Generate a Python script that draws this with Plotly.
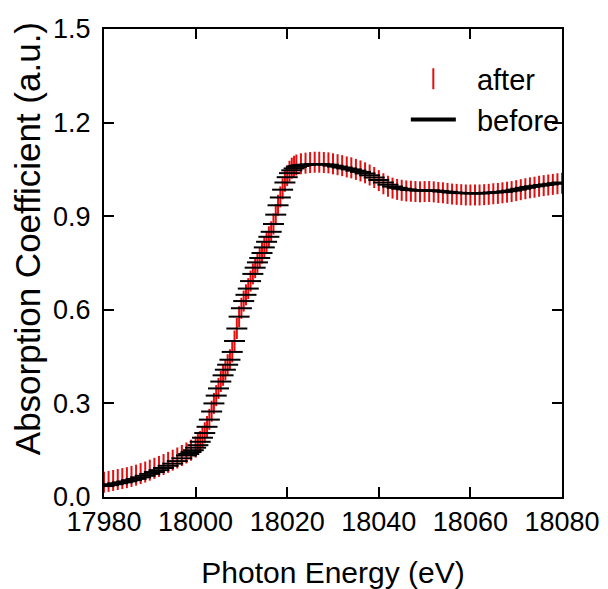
import plotly.graph_objects as go

# "before" spectrum (black horizontal-tick markers)
before_e = [17980, 17981, 17982, 17983, 17984, 17985, 17986, 17987, 17988, 17989,
            17990, 17991, 17992, 17993, 17994, 17995, 17996, 17997,
            17998, 17998.5, 17999, 17999.5, 18000, 18000.5, 18001, 18001.5, 18002, 18002.5,
            18003, 18003.5, 18004, 18004.5, 18005, 18005.5, 18006, 18006.5, 18007, 18007.5,
            18008, 18008.5, 18009, 18009.5, 18010, 18010.5, 18011, 18011.5, 18012, 18012.5,
            18013, 18013.5, 18014, 18014.5, 18015, 18015.5, 18016, 18016.5, 18017, 18017.5,
            18018, 18018.5, 18019, 18019.5, 18020, 18020.5, 18021, 18021.5, 18022, 18022.5,
            18023, 18023.5, 18024,
            18025, 18026, 18027, 18028, 18029, 18030, 18031, 18032, 18033, 18034,
            18035, 18036, 18037, 18038, 18039, 18040, 18041, 18042, 18043, 18044,
            18045, 18046, 18047, 18048, 18049, 18050, 18051, 18052, 18053, 18054,
            18055, 18056, 18057, 18058, 18059, 18060, 18061, 18062, 18063, 18064,
            18065, 18066, 18067, 18068, 18069, 18070, 18071, 18072, 18073, 18074,
            18075, 18076, 18077, 18078, 18079, 18080]
before_mu = [0.035, 0.038, 0.041, 0.044, 0.047, 0.050, 0.054, 0.058, 0.063, 0.068,
             0.074, 0.080, 0.086, 0.093, 0.100, 0.107, 0.115, 0.124,
             0.133, 0.138, 0.144, 0.150, 0.158, 0.166, 0.177, 0.190, 0.205, 0.225,
             0.248, 0.274, 0.300, 0.325, 0.348, 0.370, 0.390, 0.408, 0.424, 0.440,
             0.465, 0.500, 0.540, 0.578, 0.605, 0.628, 0.648, 0.668, 0.692, 0.715,
             0.735, 0.752, 0.766, 0.782, 0.800, 0.818, 0.834, 0.850, 0.875, 0.905,
             0.935, 0.960, 0.985, 1.008, 1.025, 1.038, 1.047, 1.053, 1.058, 1.061,
             1.063, 1.064, 1.065,
             1.066, 1.067, 1.067, 1.066, 1.065, 1.062, 1.059, 1.056, 1.053, 1.050,
             1.046, 1.042, 1.037, 1.031, 1.024, 1.016, 1.008, 1.001, 0.995, 0.991,
             0.988, 0.986, 0.984, 0.983, 0.982, 0.982, 0.983, 0.982, 0.981, 0.979,
             0.978, 0.976, 0.975, 0.974, 0.974, 0.973, 0.973, 0.973, 0.974, 0.975,
             0.976, 0.977, 0.978, 0.980, 0.982, 0.985, 0.988, 0.991, 0.994, 0.996,
             0.998, 1.000, 1.002, 1.004, 1.006, 1.008]

# "after" spectrum (red vertical-tick markers)
after_e = [17980, 17981, 17982, 17983, 17984, 17985, 17986, 17987, 17988, 17989,
           17990, 17991, 17992, 17993, 17994, 17995, 17996, 17997, 17998, 17999,
           18000, 18000.5, 18001, 18001.5, 18002, 18002.5, 18003, 18003.5, 18004, 18004.5,
           18005, 18005.5, 18006, 18006.5, 18007, 18007.5, 18008, 18008.5, 18009, 18009.5,
           18010, 18010.5, 18011, 18011.5, 18012, 18012.5, 18013, 18013.5, 18014, 18014.5,
           18015, 18015.5, 18016, 18016.5, 18017, 18017.5, 18018, 18018.5, 18019, 18019.5,
           18020, 18020.5, 18021, 18021.5, 18022,
           18023, 18024, 18025, 18026, 18027, 18028, 18029, 18030, 18031, 18032,
           18033, 18034, 18035, 18036, 18037, 18038, 18039, 18040, 18041, 18042,
           18043, 18044, 18045, 18046, 18047, 18048, 18049, 18050, 18051, 18052,
           18053, 18054, 18055, 18056, 18057, 18058, 18059, 18060, 18061, 18062,
           18063, 18064, 18065, 18066, 18067, 18068, 18069, 18070, 18071, 18072,
           18073, 18074, 18075, 18076, 18077, 18078, 18079, 18080]
after_mu = [0.047, 0.050, 0.053, 0.056, 0.059, 0.062, 0.066, 0.070, 0.075, 0.080,
            0.086, 0.092, 0.098, 0.104, 0.111, 0.118, 0.125, 0.133, 0.141, 0.150,
            0.160, 0.168, 0.178, 0.191, 0.206, 0.226, 0.249, 0.275, 0.300, 0.325,
            0.348, 0.370, 0.390, 0.408, 0.424, 0.440, 0.465, 0.500, 0.540, 0.578,
            0.605, 0.628, 0.648, 0.668, 0.692, 0.715, 0.735, 0.752, 0.766, 0.782,
            0.800, 0.818, 0.834, 0.850, 0.875, 0.905, 0.935, 0.962, 0.988, 1.012,
            1.030, 1.044, 1.054, 1.060, 1.064,
            1.068, 1.070, 1.072, 1.073, 1.073, 1.072, 1.071, 1.068, 1.065, 1.062,
            1.058, 1.055, 1.050, 1.045, 1.039, 1.032, 1.024, 1.014, 1.004, 0.996,
            0.990, 0.986, 0.983, 0.981, 0.980, 0.979, 0.978, 0.979, 0.979, 0.978,
            0.976, 0.975, 0.973, 0.971, 0.970, 0.969, 0.968, 0.968, 0.968, 0.968,
            0.969, 0.970, 0.972, 0.973, 0.975, 0.977, 0.979, 0.982, 0.985, 0.988,
            0.991, 0.993, 0.996, 0.998, 1.000, 1.002, 1.004, 1.006]

x_ticks = [17980, 18000, 18020, 18040, 18060, 18080]
y_ticks = [0.0, 0.3, 0.6, 0.9, 1.2, 1.5]

FONT = "Liberation Sans, Arial, sans-serif"
NB = "\u00a0"

fig = go.Figure()
fig.add_trace(go.Scatter(
    x=after_e, y=after_mu, mode="markers", name=NB * 2 + "after",
    marker=dict(symbol="line-ns", size=15, line=dict(color="#e01010", width=2)),
))
fig.add_trace(go.Scatter(
    x=before_e, y=before_mu, mode="markers", name="before", showlegend=False,
    marker=dict(symbol="line-ew", size=15, line=dict(color="black", width=2)),
))
fig.add_trace(go.Scatter(
    x=[None], y=[None], mode="lines", name=NB * 2 + "before",
    line=dict(color="black", width=4),
))

axis_common = dict(
    showline=True, linecolor="black", linewidth=2, mirror="ticks",
    ticks="inside", ticklen=10, tickwidth=2, tickcolor="black",
    showgrid=False, zeroline=False, automargin=False,
    tickfont=dict(family=FONT, size=27, color="black"),
)

fig.update_layout(
    width=608, height=589,
    margin=dict(l=104, r=46, t=29, b=92),
    paper_bgcolor="white", plot_bgcolor="white",
    font=dict(family=FONT, size=27, color="black"),
    xaxis=dict(range=[17980, 18080], tickvals=x_ticks,
               ticktext=[str(v) for v in x_ticks],
               title=dict(text="Photon Energy (eV)", font=dict(family=FONT, size=30), standoff=27),
               **axis_common),
    yaxis=dict(range=[0, 1.5], tickvals=y_ticks,
               ticktext=[f"{v:.1f}" for v in y_ticks],
               ticklabelstandoff=6,
               **axis_common),
    legend=dict(x=0.659, y=0.948, xanchor="left", yanchor="top",
                bgcolor="rgba(0,0,0,0)", font=dict(family=FONT, size=29),
                itemwidth=45, tracegroupgap=0),
    showlegend=True,
    annotations=[dict(
        text="Absorption Coefficient (a.u.)", textangle=-90,
        xref="paper", yref="paper", x=-0.168, y=0.551,
        xanchor="center", yanchor="middle", showarrow=False,
        font=dict(family=FONT, size=35, color="black"),
    )],
)

fig.write_html("out.html")
